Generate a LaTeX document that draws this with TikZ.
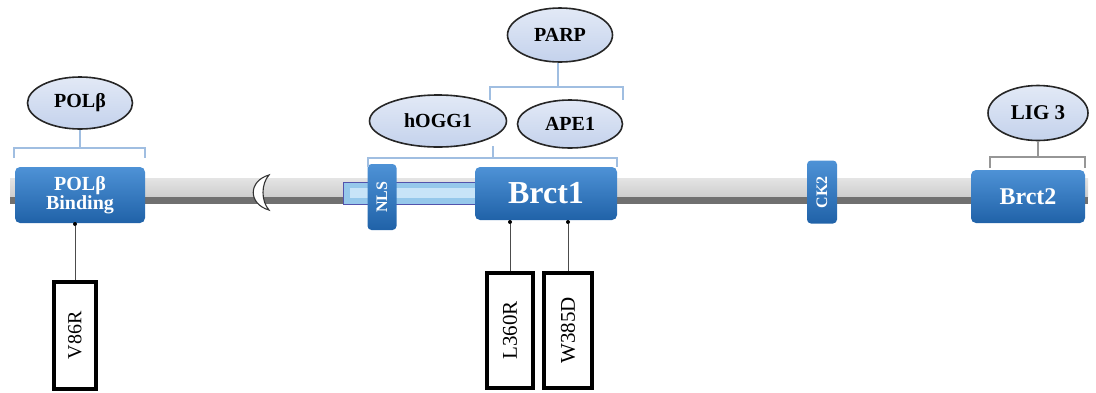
\documentclass[tikz,border=0pt]{standalone}
\usepackage{fontspec}
\usepackage{graphicx}
\setmainfont{Liberation Serif}
\usetikzlibrary{shapes.geometric}
\definecolor{domblue}{RGB}{32,98,168}
\definecolor{domtop}{RGB}{78,146,214}
\definecolor{ellfill}{RGB}{196,210,236}
\definecolor{elltop}{RGB}{226,233,246}
\definecolor{brk}{RGB}{160,190,225}
\definecolor{brkgray}{RGB}{150,150,150}
\definecolor{backlight}{RGB}{228,228,228}
\definecolor{backmid}{RGB}{205,205,205}
\definecolor{backdark}{RGB}{112,112,112}
\definecolor{nlsbar}{RGB}{150,200,235}
\definecolor{nlsin}{RGB}{200,228,248}
\newcommand{\fs}[1]{\fontsize{#1}{#1}\selectfont}
\begin{document}
\begin{tikzpicture}[x=1pt,y=-1pt,
  dombox/.style={draw=none, rounded corners=5pt, top color=domtop, bottom color=domblue,
    text=white, font=\bfseries, align=center, inner sep=0pt},
  partner/.style={ellipse, draw=black!85, line width=1.6pt, top color=elltop,
    bottom color=ellfill, font=\bfseries\fs{20}, inner sep=0pt},
  bracket/.style={draw=brk, line width=1.2pt},
  mutbox/.style={draw=black, line width=3.3pt, fill=white, inner sep=0pt},
  mutline/.style={draw=black!70, line width=1pt},
  mutdot/.style={circle, fill=black, inner sep=0pt, minimum size=4pt}
]
\useasboundingbox (0,0) rectangle (1096,392);

% backbone
\fill[top color=backlight, bottom color=backmid] (10,178) rectangle (1088,197);
\fill[backdark] (10,197) rectangle (1088,204);

% NLS region bar
\fill[nlsbar, draw=blue!35!gray, line width=0.6pt] (343,182) rectangle (477,204);
\fill[nlsin] (350,188) rectangle (477,198);

% crescent break
\draw[gray!40!black, fill=white, line width=1.1pt]
  (269,175) .. controls (248,181) and (248,204) .. (269,210)
  .. controls (261,201) and (261,184) .. (269,175) -- cycle;

% domains
\node[dombox, minimum width=130, minimum height=56, font=\bfseries\fs{20}] (polb) at (80,195) {POLβ\\[-1pt]Binding};
\node[dombox, minimum width=29, minimum height=66, rounded corners=4pt, font=\bfseries\fs{16}] (nls) at (382,197) {\rotatebox{90}{NLS}};
\node[dombox, minimum width=142, minimum height=53, font=\bfseries\fs{32}] (brct1) at (546,193.5) {Brct1};
\node[dombox, minimum width=30, minimum height=63, rounded corners=4pt, font=\bfseries\fs{16}] (ck2) at (822,192) {\rotatebox{90}{CK2}};
\node[dombox, minimum width=114, minimum height=53, font=\bfseries\fs{24}] (brct2) at (1028,196.5) {Brct2};

% partner ellipses
\node[partner, minimum width=105, minimum height=52] (polbe) at (80,103) {POLβ};
\node[partner, minimum width=137, minimum height=52] (hogg) at (438,121) {hOGG1};
\node[partner, minimum width=105, minimum height=48] (ape) at (570,124) {APE1};
\node[partner, minimum width=105, minimum height=54] (parp) at (560,35) {PARP};
\node[partner, minimum width=100, minimum height=55, font=\bfseries\fs{21}] (lig) at (1038,113) {LIG 3};

% brackets
\coordinate (bp) at (80,148);
\draw[bracket] (14,158) -- (14,148) -- (145,148) -- (145,158);
\draw[bracket] (polbe.south) -- (bp);

\coordinate (bb1top) at (493,146);
\coordinate (bb1) at (493,158);
\draw[bracket] (368,167) -- (368,158) -- (617,158) -- (617,167);
\draw[bracket] (bb1top) -- (bb1);

\coordinate (bpa) at (558,87);
\draw[bracket] (490,100) -- (490,87) -- (623,87) -- (623,100);
\draw[bracket] (parp.south -| bpa) -- (bpa);

\coordinate (bl) at (1038,157);
\draw[bracket, draw=brkgray] (990,168) -- (990,157) -- (1085,157) -- (1085,168);
\draw[bracket, draw=brkgray] (lig.south) -- (bl);

% mutations
\node[mutbox, minimum width=42, minimum height=107, font=\fs{20}] (v86) at (75,335.5) {\rotatebox{90}{V86R}};
\node[mutbox, minimum width=46, minimum height=115, font=\fs{21}] (l360) at (510,330.5) {\rotatebox{90}{L360R}};
\node[mutbox, minimum width=48, minimum height=115, font=\fs{21}] (w385) at (568,330.5) {\rotatebox{90}{W385D}};

\node[mutdot] (dv) at (75,224) {};
\node[mutdot] (dl) at (510,222) {};
\node[mutdot] (dw) at (568,222) {};
\draw[mutline] (dv) -- (v86.north);
\draw[mutline] (dl) -- (l360.north);
\draw[mutline] (dw) -- (w385.north);
\end{tikzpicture}
\end{document}
